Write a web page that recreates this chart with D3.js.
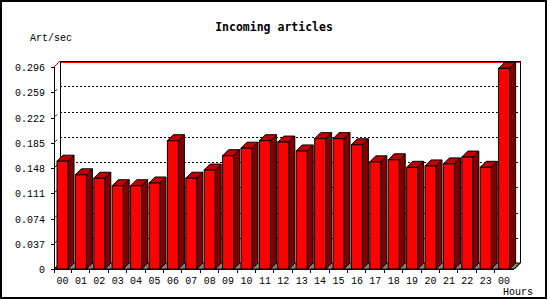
<!DOCTYPE html>
<html lang="en">
<head>
  <meta charset="UTF-8">
  <title>Incoming articles</title>
  <script src="https://cdn.jsdelivr.net/npm/d3@7"></script>
  <style>
    body { margin: 0; background: #fff; }
    text { font-family: "Liberation Mono", "DejaVu Sans Mono", monospace; fill: #000; }
  </style>
</head>
<body>
  <div id="chart"></div>

  <script>
    const hours = ["00","01","02","03","04","05","06","07","08","09","10","11",
                   "12","13","14","15","16","17","18","19","20","21","22","23","00"];
    const artPerSec = [0.158, 0.138, 0.133, 0.122, 0.122, 0.126, 0.188, 0.133, 0.145, 0.166,
                       0.177, 0.188, 0.186, 0.173, 0.191, 0.191, 0.182, 0.157, 0.160, 0.149,
                       0.151, 0.154, 0.164, 0.149, 0.294];
    const yTicks = [0, 0.037, 0.074, 0.111, 0.148, 0.185, 0.222, 0.259, 0.296];

    const width = 550, height = 300;
    const plotLeft = 54, plotRight = 514, plotTop = 67, plotBottom = 269;
    const depth = 6;

    const svg = d3.select('#chart')
      .append('svg')
        .attr('width', width)
        .attr('height', height);

    // frame
    svg.append('rect')
      .attr('x', 1).attr('y', 1)
      .attr('width', 545).attr('height', 297)
      .attr('fill', '#fff')
      .attr('stroke', '#000')
      .attr('stroke-width', 2);

    const x = d3.scaleBand()
      .domain(d3.range(hours.length))
      .range([plotLeft, plotRight])
      .padding(0);

    const y = d3.scaleLinear()
      .domain([0, 0.296])
      .range([plotBottom, plotTop]);

    // floor
    svg.append('polygon')
      .attr('points', [[plotLeft, plotBottom], [plotLeft + depth, plotBottom - depth],
                       [plotRight + depth, plotBottom - depth], [plotRight, plotBottom]].join(' '))
      .attr('fill', '#808080')
      .attr('stroke', '#000');

    // back wall grid
    svg.selectAll('line.grid')
      .data(yTicks.slice(1, -1))
      .join('line')
        .attr('class', 'grid')
        .attr('x1', plotLeft + depth).attr('x2', plotRight + depth)
        .attr('y1', d => Math.round(y(d)) - depth + 0.5)
        .attr('y2', d => Math.round(y(d)) - depth + 0.5)
        .attr('stroke', '#000')
        .attr('stroke-dasharray', '2,2');

    // back wall edges
    svg.append('line')
      .attr('x1', plotLeft + depth).attr('x2', plotRight + depth)
      .attr('y1', plotTop - depth + 1.5).attr('y2', plotTop - depth + 1.5)
      .attr('stroke', '#f00');
    svg.append('line')
      .attr('x1', plotLeft + depth).attr('x2', plotRight + depth)
      .attr('y1', plotTop - depth + 0.5).attr('y2', plotTop - depth + 0.5)
      .attr('stroke', '#000');
    svg.append('line')
      .attr('x1', plotLeft + depth + 0.5).attr('x2', plotLeft + depth + 0.5)
      .attr('y1', plotTop - depth).attr('y2', plotBottom - depth)
      .attr('stroke', '#000');
    svg.append('polyline')
      .attr('points', [[plotRight + depth + 0.5, plotTop - depth], [plotRight + depth + 0.5, plotBottom - depth],
                       [plotRight + 0.5, plotBottom]].join(' '))
      .attr('fill', 'none')
      .attr('stroke', '#000');
    svg.append('line')
      .attr('x1', plotLeft).attr('y1', plotTop)
      .attr('x2', plotLeft + depth).attr('y2', plotTop - depth)
      .attr('stroke', '#f00');

    // bars
    const bw = 11;
    const bars = svg.selectAll('g.bar')
      .data(artPerSec)
      .join('g')
        .attr('class', 'bar');

    bars.append('polygon')
      .attr('points', (d, i) => {
        const x0 = x(i) + 3, yt = y(d);
        return [[x0 + bw, yt], [x0 + bw + depth, yt - depth],
                [x0 + bw + depth, plotBottom - depth], [x0 + bw, plotBottom]].join(' ');
      })
      .attr('fill', '#800000')
      .attr('stroke', '#000');

    bars.append('polygon')
      .attr('points', (d, i) => {
        const x0 = x(i) + 3, yt = y(d);
        return [[x0, yt], [x0 + depth, yt - depth],
                [x0 + bw + depth, yt - depth], [x0 + bw, yt]].join(' ');
      })
      .attr('fill', '#c00000')
      .attr('stroke', '#000');

    bars.append('rect')
      .attr('x', (d, i) => x(i) + 3)
      .attr('y', d => y(d))
      .attr('width', bw)
      .attr('height', d => plotBottom - y(d))
      .attr('fill', '#f00')
      .attr('stroke', '#000');

    // y axis (front)
    svg.append('line')
      .attr('x1', plotLeft + 0.5).attr('x2', plotLeft + 0.5)
      .attr('y1', plotTop).attr('y2', plotBottom)
      .attr('stroke', '#000');

    svg.selectAll('line.ytick')
      .data(yTicks)
      .join('line')
        .attr('class', 'ytick')
        .attr('x1', plotLeft - 3).attr('x2', plotLeft)
        .attr('y1', d => Math.round(y(d)) + 0.5)
        .attr('y2', d => Math.round(y(d)) + 0.5)
        .attr('stroke', '#000');

    svg.selectAll('line.ydiag')
      .data(yTicks.slice(1, -1))
      .join('line')
        .attr('class', 'ydiag')
        .attr('x1', plotLeft + 1).attr('y1', d => y(d) - 1)
        .attr('x2', plotLeft + 3).attr('y2', d => y(d) - 3)
        .attr('stroke', '#000');

    svg.selectAll('text.ylab')
      .data(yTicks)
      .join('text')
        .attr('class', 'ylab')
        .attr('x', 45)
        .attr('y', d => y(d) + 4)
        .attr('text-anchor', 'end')
        .style('font-size', '10px')
        .text(d => d === 0 ? '0' : d3.format('.3f')(d));

    // x axis
    svg.append('line')
      .attr('x1', plotLeft).attr('x2', plotRight)
      .attr('y1', plotBottom + 0.5).attr('y2', plotBottom + 0.5)
      .attr('stroke', '#000');

    svg.selectAll('line.xtick')
      .data(d3.range(hours.length - 1))
      .join('line')
        .attr('class', 'xtick')
        .attr('x1', i => Math.round(x(i) + x.bandwidth() - 1.5) + 0.5)
        .attr('x2', i => Math.round(x(i) + x.bandwidth() - 1.5) + 0.5)
        .attr('y1', plotBottom).attr('y2', plotBottom + 4)
        .attr('stroke', '#000');
    svg.append('line')
      .attr('x1', plotLeft + 0.5).attr('x2', plotLeft + 0.5)
      .attr('y1', plotBottom).attr('y2', plotBottom + 4)
      .attr('stroke', '#000');

    svg.selectAll('text.xlab')
      .data(hours)
      .join('text')
        .attr('class', 'xlab')
        .attr('x', (d, i) => x(i) + 3 + bw / 2)
        .attr('y', 284)
        .attr('text-anchor', 'middle')
        .style('font-size', '10px')
        .text(d => d);

    // titles
    svg.append('text')
      .attr('x', 274).attr('y', 31)
      .attr('text-anchor', 'middle')
      .style('font-family', '"DejaVu Sans Mono", monospace')
      .style('font-size', '11.5px')
      .style('font-weight', 'bold')
      .text('Incoming articles');

    svg.append('text')
      .attr('x', 30).attr('y', 41)
      .style('font-size', '10px')
      .text('Art/sec');

    svg.append('text')
      .attr('x', 533).attr('y', 295)
      .attr('text-anchor', 'end')
      .style('font-size', '10px')
      .text('Hours');
  </script>
</body>
</html>
